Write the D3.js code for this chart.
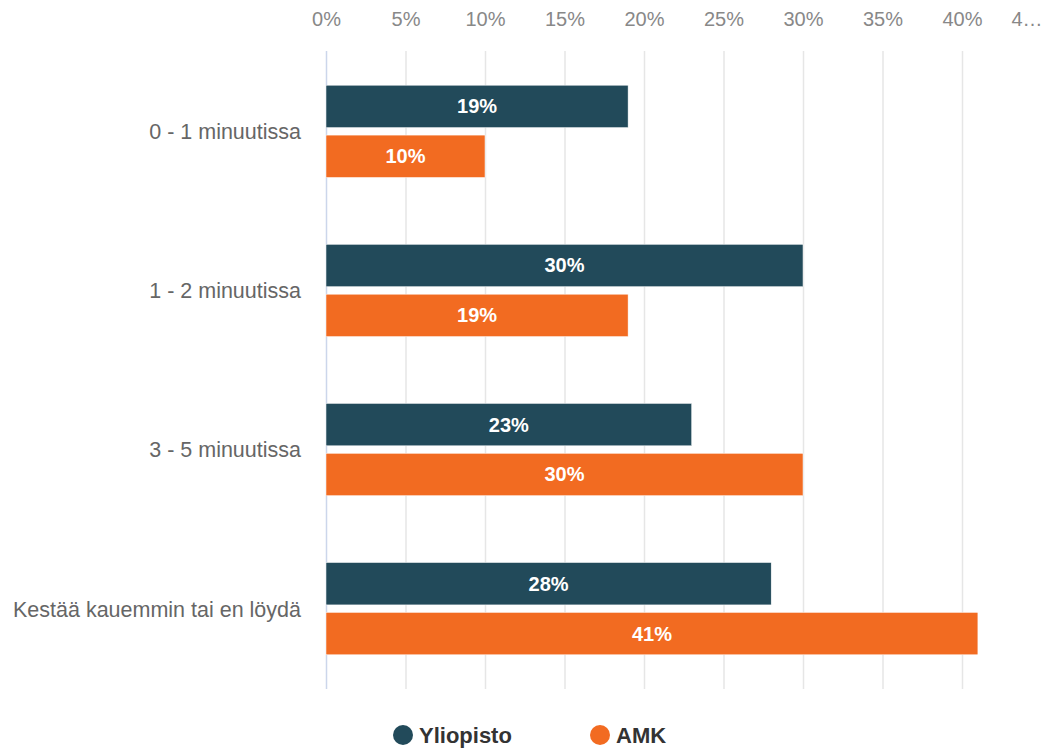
<!DOCTYPE html>
<html><head><meta charset="utf-8">
<script src="https://cdn.jsdelivr.net/npm/d3@7"></script>
<style>body{margin:0;background:#fff;}svg{display:block;font-family:"Liberation Sans",Arial,sans-serif;}</style>
</head><body>
<svg id="c" width="1044" height="749"></svg>
<script>
const categories = ["0 - 1 minuutissa","1 - 2 minuutissa","3 - 5 minuutissa","Kestää kauemmin tai en löydä"];
const seriesNames = ["Yliopisto","AMK"];
const yliopisto = [19,30,23,28];
const amk = [10,19,30,41];
const tickValues = [0,5,10,15,20,25,30,35,40,45];
const colors = ["#224a5a","#f26b21"];

const svg = d3.select("#c");
const x = d3.scaleLinear().domain([0,45]).range([326,1041.5]);
const y0 = d3.scaleBand().domain(categories).range([51,689]).paddingInner(0.42).paddingOuter(0.215);
const y1 = d3.scaleBand().domain(seriesNames).range([0,y0.bandwidth()]).paddingInner(0.15);

// gridlines
svg.append("g").selectAll("line").data(tickValues.filter(v=>v<45)).join("line")
  .attr("x1",d=>x(d)+0.5).attr("x2",d=>x(d)+0.5).attr("y1",51).attr("y2",689)
  .attr("stroke",d=>d===0?"#ccd6eb":"#e6e6e6").attr("stroke-width",1.5);

// top axis labels
const ax = svg.append("g").attr("transform","translate(0,22)").call(d3.axisTop(x).tickValues(tickValues).tickSize(0).tickFormat(d=>d===45?"4…":d+"%"));
ax.select(".domain").remove();
ax.selectAll("text").attr("fill","#888").attr("font-size","20px").attr("font-family","'Liberation Sans',Arial,sans-serif")
  .attr("dy","0.35em").attr("x",d=>d===45?-15:0);

const data = categories.map((c,i)=>({cat:c, vals:[{s:seriesNames[0],v:yliopisto[i]},{s:seriesNames[1],v:amk[i]}]}));
const g = svg.append("g").selectAll("g").data(data).join("g").attr("transform",d=>`translate(0,${y0(d.cat)})`);
g.selectAll("rect").data(d=>d.vals).join("rect")
  .attr("x",x(0)).attr("y",d=>y1(d.s)).attr("width",d=>x(d.v)-x(0)).attr("height",y1.bandwidth())
  .attr("fill",(d,i)=>colors[i]).attr("stroke","#fff").attr("stroke-width",0.5);
g.selectAll("text.v").data(d=>d.vals).join("text").attr("class","v")
  .attr("x",d=>(x(0)+x(d.v))/2).attr("y",d=>y1(d.s)+y1.bandwidth()/2).attr("dy","0.35em")
  .attr("text-anchor","middle").attr("fill","#fff").attr("font-weight","bold").attr("font-size","20px")
  .text(d=>d.v+"%");

// category labels
const ay = svg.append("g").attr("transform","translate(301,1)").call(d3.axisLeft(y0).tickSize(0));
ay.select(".domain").remove();
ay.selectAll("text").attr("fill","#666").attr("font-size","21.5px").attr("font-family","'Liberation Sans',Arial,sans-serif").attr("x",0);

// legend
const leg = svg.append("g").selectAll("g").data(seriesNames).join("g")
  .attr("transform",(d,i)=>`translate(${[403,600][i]},735)`);
leg.append("circle").attr("r",10).attr("fill",(d,i)=>colors[i]);
leg.append("text").attr("x",16).attr("dy","0.35em").attr("font-size","22px").attr("font-weight","bold").attr("fill","#333").text(d=>d);
</script>
</body></html>
